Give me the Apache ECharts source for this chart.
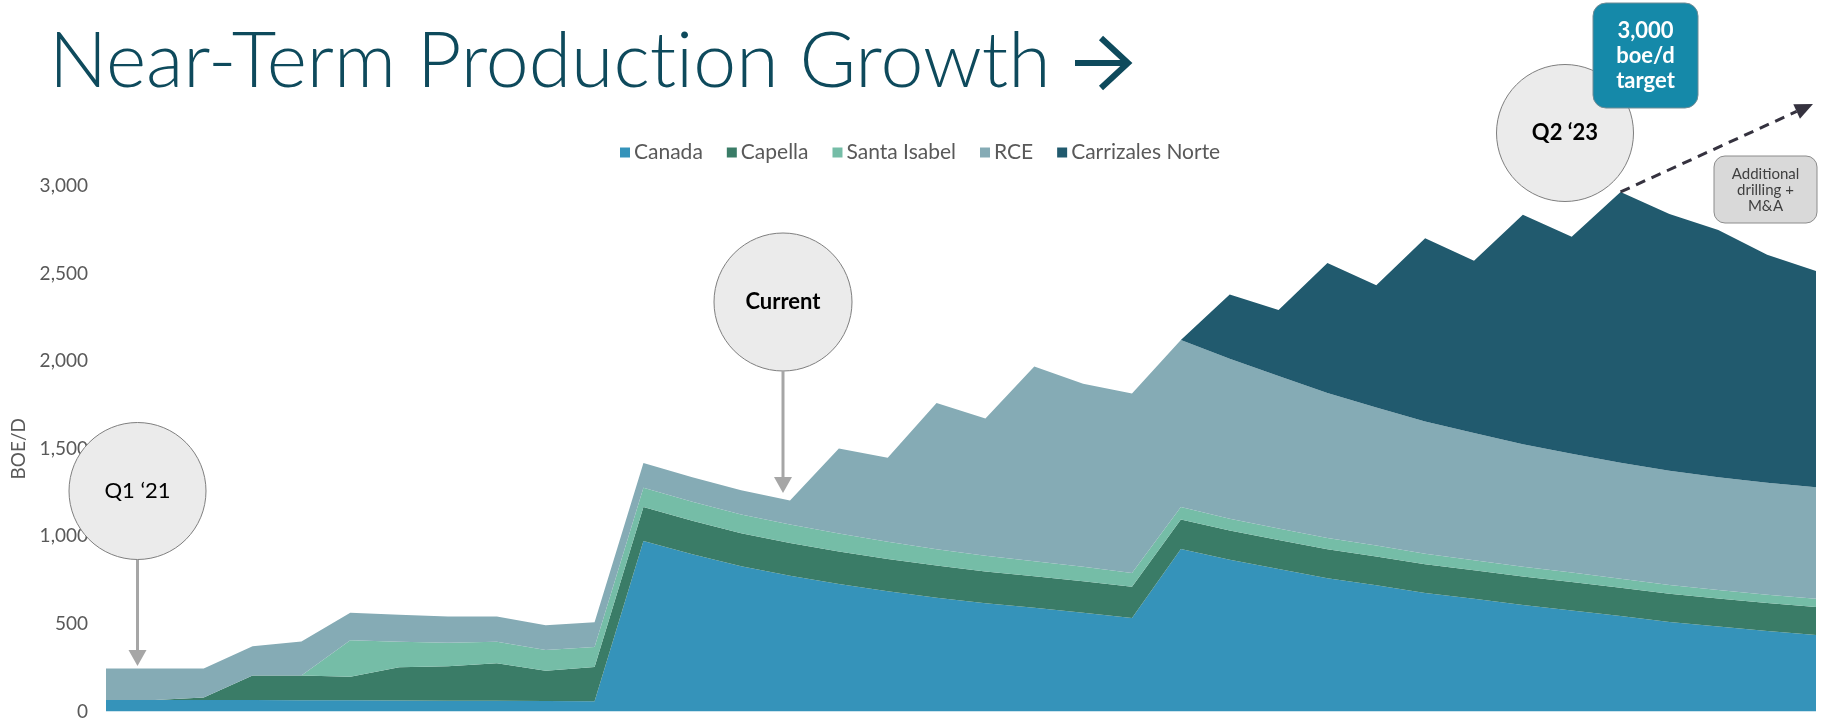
<!DOCTYPE html>
<html>
<head>
<meta charset="utf-8">
<script src="https://cdn.jsdelivr.net/npm/echarts@6/dist/echarts.min.js"></script>
<style>
  html, body { margin: 0; padding: 0; background: #ffffff; }
  #chart { width: 1825px; height: 721px; }
</style>
</head>
<body>
<div id="chart"></div>
<script>
// Monthly production profile by asset (boe/d), stacked
const periods = ['1','2','3','4','5','6','7','8','9','10','11','12','13','14','15','16','17','18',
                 '19','20','21','22','23','24','25','26','27','28','29','30','31','32','33','34','35','36'];

const canada = [65, 65, 65, 65, 64, 64, 63, 62, 61, 60, 58,
                973, 898, 829, 775, 728, 687, 650, 618, 592, 564, 534,
                928, 866, 813, 761, 721, 677, 643, 608, 577, 545, 511, 485, 459, 437];

const capella = [0, 0, 15, 141, 142, 134, 189, 196, 215, 173, 196,
                 194, 191, 189, 187, 186, 184, 183, 181, 180, 179, 178,
                 168, 167, 166, 165, 164, 163, 163, 162, 162, 161, 161, 160, 160, 160];

const santaIsabel = [0, 0, 0, 0, 0, 209, 146, 134, 122, 118, 114,
                     110, 108, 107, 106, 102, 98, 93, 90, 86, 84, 78,
                     71, 68, 66, 64, 62, 60, 58, 56, 54, 52, 50, 49, 47, 46];

const rce = [181, 180, 166, 166, 194, 157, 155, 151, 145, 142, 142,
             142, 140, 138, 136, 485, 480, 835, 784, 1112, 1044, 1025,
             954, 913, 871, 828, 788, 755, 726, 699, 679, 662, 652, 644, 640, 637];

const carrizalesNorte = [0, 0, 0, 0, 0, 0, 0, 0, 0, 0, 0,
                         0, 0, 0, 0, 0, 0, 0, 0, 0, 0, 0,
                         0, 367, 376, 742, 699, 1047, 983, 1311, 1238, 1546, 1466, 1411, 1301, 1235];

const seriesNames = ['Canada', 'Capella', 'Santa Isabel', 'RCE', 'Carrizales Norte'];
const seriesColors = ['#3593BA', '#3A7C67', '#75BDA7', '#85ABB5', '#215A6E'];
const seriesData = [canada, capella, santaIsabel, rce, carrizalesNorte];

const yTicks = { min: 0, max: 3000, interval: 500 };
const targetIndex = 31; // peak month that the growth arrow starts from

const FONT = 'Lato, "Open Sans", sans-serif';
const TITLE_COLOR = '#0E4A5C';

const chart = echarts.init(document.getElementById('chart'), null, { renderer: 'canvas' });

const titleStyle = { fontFamily: FONT, fontWeight: 300, fontSize: 77, color: TITLE_COLOR };

const option = {
  animation: false,
  backgroundColor: '#ffffff',
  title: {
    // split into two runs so "t" + "i" are drawn as separate glyphs
    text: '{t|Near-Term Product}{t|ion Growth}',
    left: 44,
    top: 19,
    textStyle: { rich: { t: titleStyle } }
  },
  legend: {
    data: seriesNames,
    left: 615,
    top: 137,
    icon: 'rect',
    itemWidth: 10,
    itemHeight: 10,
    itemGap: 24,
    textStyle: { fontFamily: FONT, fontSize: 21, color: '#595959', padding: [0, 0, 0, -1] }
  },
  grid: { left: 106, right: 9, top: 186, bottom: 9, containLabel: false },
  xAxis: {
    type: 'category',
    data: periods,
    boundaryGap: false,
    axisLine: { show: false },
    axisTick: { show: false },
    axisLabel: { show: false },
    splitLine: { show: false }
  },
  yAxis: {
    type: 'value',
    min: yTicks.min,
    max: yTicks.max,
    interval: yTicks.interval,
    name: 'BOE/D',
    nameLocation: 'middle',
    nameGap: 78,
    nameTextStyle: { fontFamily: FONT, fontSize: 19, color: '#595959' },
    axisLine: { show: false },
    axisTick: { show: false },
    splitLine: { show: false },
    axisLabel: {
      fontFamily: FONT, fontSize: 19, color: '#595959', margin: 18,
      formatter: v => v.toLocaleString('en-US')
    }
  },
  series: seriesNames.map((name, i) => ({
    name: name,
    type: 'line',
    stack: 'total',
    data: seriesData[i],
    symbol: 'none',
    showSymbol: false,
    lineStyle: { width: 0 },
    itemStyle: { color: seriesColors[i] },
    areaStyle: { color: seriesColors[i], opacity: 1 },
    emphasis: { disabled: true }
  }))
};

chart.setOption(option);

// ---- annotations ----
const circleStyle = { fill: '#EBEBEB', stroke: '#7F7F7F', lineWidth: 1 };
const grayArrow = '#A6A6A6';

function bubble(cx, cy, r, label, bold) {
  return [
    { type: 'circle', z: 100, shape: { cx: cx, cy: cy, r: r }, style: circleStyle },
    { type: 'text', z: 101, style: {
        text: label, x: cx, y: cy, align: 'center', verticalAlign: 'middle',
        textAlign: 'center', textVerticalAlign: 'middle',
        font: (bold ? 'bold ' : '') + '22px ' + FONT, fill: '#000000' } }
  ];
}

function downArrow(x, y1, y2) {
  return [
    { type: 'line', z: 100, shape: { x1: x, y1: y1, x2: x, y2: y2 - 12 },
      style: { stroke: grayArrow, lineWidth: 3 } },
    { type: 'polygon', z: 100, shape: { points: [[x - 9, y2 - 16], [x + 9, y2 - 16], [x, y2]] },
      style: { fill: grayArrow } }
  ];
}

// arrow glyph after the heading
const titleArrow = [
  { type: 'line', z: 10, shape: { x1: 1075, y1: 63, x2: 1126, y2: 63 },
    style: { stroke: TITLE_COLOR, lineWidth: 6 } },
  { type: 'polyline', z: 10, shape: { points: [[1101, 38], [1128, 63], [1101, 88]] },
    style: { stroke: TITLE_COLOR, lineWidth: 6, fill: null, lineJoin: 'miter' } }
];

// growth arrow from the peak month out to the right edge
const peakTotal = seriesData.reduce((s, arr) => s + arr[targetIndex], 0);
const start = chart.convertToPixel({ xAxisIndex: 0, yAxisIndex: 0 }, [targetIndex, peakTotal]);
const tip = [1813, 104];
const dx = tip[0] - start[0], dy = tip[1] - start[1];
const len = Math.sqrt(dx * dx + dy * dy);
const ux = dx / len, uy = dy / len;
const headLen = 18, headHalf = 8;
const base = [tip[0] - ux * headLen, tip[1] - uy * headLen];

const graphics = [].concat(
  titleArrow,
  bubble(137.5, 491, 68.5, 'Q1 \u201821', false),
  downArrow(137.5, 560, 666),
  bubble(783, 302, 69, 'Current', true),
  downArrow(783, 371, 493),
  bubble(1565, 133, 68.5, 'Q2 \u201823', true),
  [
    { type: 'line', z: 102, shape: { x1: start[0], y1: start[1], x2: base[0], y2: base[1] },
      style: { stroke: '#35323F', lineWidth: 3, lineDash: [10, 7] } },
    { type: 'polygon', z: 102, shape: { points: [
        tip,
        [base[0] - uy * headHalf, base[1] + ux * headHalf],
        [base[0] + uy * headHalf, base[1] - ux * headHalf]
      ] }, style: { fill: '#35323F' } },
    { type: 'rect', z: 103, shape: { x: 1593, y: 3, width: 105, height: 105, r: 13 },
      style: { fill: '#1589A9', stroke: '#6E8C96', lineWidth: 1 } },
    { type: 'text', z: 104, style: {
        text: '3,000\nboe/d\ntarget', x: 1645.5, y: 56, align: 'center', verticalAlign: 'middle',
        textAlign: 'center', textVerticalAlign: 'middle', lineHeight: 25,
        font: 'bold 22px ' + FONT, fill: '#ffffff' } },
    { type: 'rect', z: 103, shape: { x: 1714, y: 156, width: 103, height: 67, r: 11 },
      style: { fill: '#D9D9D9', stroke: '#8C8C8C', lineWidth: 1 } },
    { type: 'text', z: 104, style: {
        text: 'Additional\ndrilling +\nM&A', x: 1765.5, y: 190, align: 'center', verticalAlign: 'middle',
        textAlign: 'center', textVerticalAlign: 'middle', lineHeight: 16,
        font: '15px ' + FONT, fill: '#3F3F3F' } }
  ]
);

chart.setOption({ graphic: { elements: graphics } });
</script>
</body>
</html>
